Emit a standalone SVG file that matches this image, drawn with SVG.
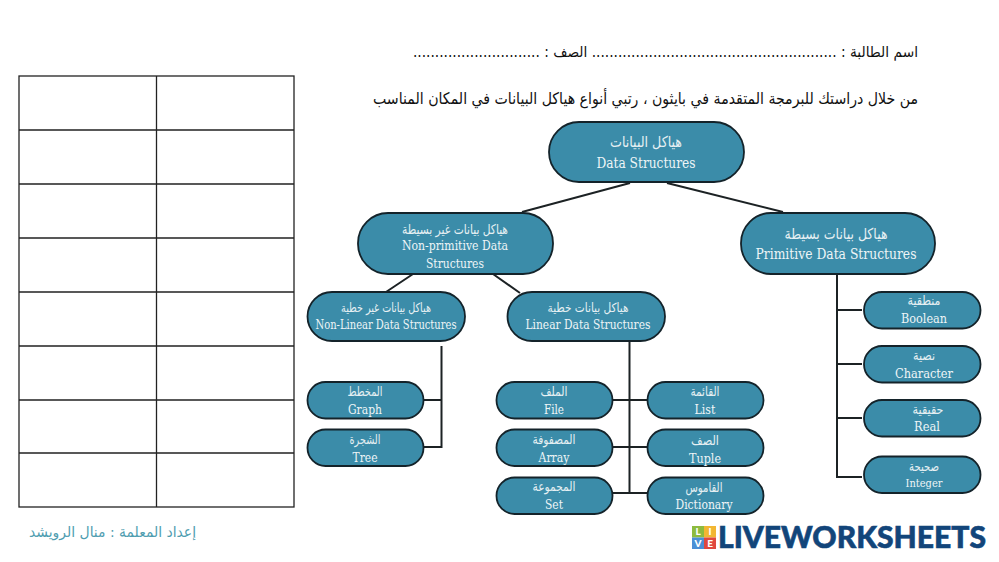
<svg xmlns="http://www.w3.org/2000/svg" width="999" height="562" viewBox="0 0 999 562">
<style>
.n{fill:#3b8ca9;stroke:#14232a;stroke-width:1.800}
.c{fill:none;stroke:#1c2224;stroke-width:2}
.t{fill:none;stroke:#222;stroke-width:1.300}
.ar{font-family:"DejaVu Sans",sans-serif;fill:#e6f0f3;text-anchor:middle;direction:rtl}
.en{font-family:"DejaVu Serif",serif;fill:#eef5f7;text-anchor:middle}
.h{font-family:"DejaVu Sans",sans-serif;direction:rtl;text-anchor:start;fill:#111}
</style>
<rect width="999" height="562" fill="#fff"/>
<g id="table" class="t">
<rect class="t" x="19" y="76" width="275" height="431"/>
<path class="t" d="M156.500 76V507M19 130H294M19 184H294M19 238H294M19 292H294M19 346H294M19 400H294M19 453H294"/>
</g>
<g id="header">
<text class="h" x="918" y="57" font-size="15" textLength="505" lengthAdjust="spacingAndGlyphs">اسم الطالبة : ........................................................ الصف : .............................</text>
<text class="h" x="918" y="104" font-size="16" textLength="545" lengthAdjust="spacingAndGlyphs">من خلال دراستك للبرمجة المتقدمة في بايثون ، رتبي أنواع هياكل البيانات في المكان المناسب</text>
</g>
<g id="connectors">
<path class="c" d="M630 183L522 212M667 183L783 212M413 274L386 292M493 274L520 293"/>
<path class="c" d="M441.500 346V447H424M424 400H441.500"/>
<path class="c" d="M629.500 341V493H613M613 400H647M613 447H647M629.500 493H647"/>
<path class="c" d="M837 274V477H862M837 310H862M837 364H862M837 418H862"/>
</g>
<g id="root"><rect class="n" x="549" y="122" width="195" height="60" rx="30"/>
<text class="ar" x="646" y="147" font-size="15" textLength="72" lengthAdjust="spacingAndGlyphs">هياكل البيانات</text>
<text class="en" x="646" y="168" font-size="14.500" textLength="99" lengthAdjust="spacingAndGlyphs">Data Structures</text></g>
<g id="non-primitive"><rect class="n" x="358" y="213" width="195" height="61" rx="30"/>
<text class="ar" x="455" y="234" font-size="13.500" textLength="106" lengthAdjust="spacingAndGlyphs">هياكل بيانات  غير بسيطة</text>
<text class="en" x="455" y="250" font-size="13" textLength="106" lengthAdjust="spacingAndGlyphs">Non-primitive Data</text>
<text class="en" x="455" y="268" font-size="13" textLength="58" lengthAdjust="spacingAndGlyphs">Structures</text></g>
<g id="primitive"><rect class="n" x="741" y="213" width="194" height="61" rx="30"/>
<text class="ar" x="836" y="239" font-size="15" textLength="103" lengthAdjust="spacingAndGlyphs">هياكل بيانات  بسيطة</text>
<text class="en" x="836" y="259" font-size="14.500" textLength="161" lengthAdjust="spacingAndGlyphs">Primitive Data Structures</text></g>
<g id="non-linear"><rect class="n" x="307.500" y="292" width="157.500" height="49" rx="24.500"/>
<text class="ar" x="386" y="312" font-size="12.500" textLength="90" lengthAdjust="spacingAndGlyphs">هياكل بيانات غير خطية</text>
<text class="en" x="386" y="329" font-size="12" textLength="141" lengthAdjust="spacingAndGlyphs">Non-Linear Data Structures</text></g>
<g id="linear"><rect class="n" x="507.500" y="292" width="157.500" height="49" rx="24.500"/>
<text class="ar" x="588" y="312" font-size="12.500" textLength="81" lengthAdjust="spacingAndGlyphs">هياكل بيانات خطية</text>
<text class="en" x="588" y="329" font-size="12" textLength="125" lengthAdjust="spacingAndGlyphs">Linear Data Structures</text></g>
<g id="graph"><rect class="n" x="307.500" y="382" width="116" height="36.500" rx="18"/>
<text class="ar" x="365" y="396" font-size="13" textLength="35" lengthAdjust="spacingAndGlyphs">المخطط</text>
<text class="en" x="365" y="414" font-size="12.500" textLength="34" lengthAdjust="spacingAndGlyphs">Graph</text></g>
<g id="tree"><rect class="n" x="307.500" y="429.500" width="116" height="36.500" rx="18"/>
<text class="ar" x="365" y="444" font-size="13" textLength="31" lengthAdjust="spacingAndGlyphs">الشجرة</text>
<text class="en" x="365" y="462" font-size="12.500" textLength="25" lengthAdjust="spacingAndGlyphs">Tree</text></g>
<g id="file"><rect class="n" x="496.500" y="382" width="116" height="36.500" rx="18"/>
<text class="ar" x="554" y="396" font-size="13" textLength="27" lengthAdjust="spacingAndGlyphs">الملف</text>
<text class="en" x="554" y="414" font-size="12.500" textLength="20" lengthAdjust="spacingAndGlyphs">File</text></g>
<g id="array"><rect class="n" x="496.500" y="429.500" width="116" height="36.500" rx="18"/>
<text class="ar" x="554" y="444" font-size="13" textLength="43" lengthAdjust="spacingAndGlyphs">المصفوفة</text>
<text class="en" x="554" y="462" font-size="12.500" textLength="31" lengthAdjust="spacingAndGlyphs">Array</text></g>
<g id="set"><rect class="n" x="496.500" y="477.500" width="116" height="36.500" rx="18"/>
<text class="ar" x="554" y="491" font-size="13" textLength="43" lengthAdjust="spacingAndGlyphs">المجموعة</text>
<text class="en" x="554" y="509" font-size="12.500" textLength="18" lengthAdjust="spacingAndGlyphs">Set</text></g>
<g id="list"><rect class="n" x="647.500" y="382" width="116" height="36.500" rx="18"/>
<text class="ar" x="705" y="396" font-size="13" textLength="29" lengthAdjust="spacingAndGlyphs">القائمة</text>
<text class="en" x="705" y="414" font-size="12.500" textLength="21" lengthAdjust="spacingAndGlyphs">List</text></g>
<g id="tuple"><rect class="n" x="647.500" y="429.500" width="116" height="36.500" rx="18"/>
<text class="ar" x="705" y="445" font-size="13" textLength="28" lengthAdjust="spacingAndGlyphs">الصف</text>
<text class="en" x="705" y="463" font-size="12.500" textLength="32" lengthAdjust="spacingAndGlyphs">Tuple</text></g>
<g id="dictionary"><rect class="n" x="647.500" y="477.500" width="116" height="36.500" rx="18"/>
<text class="ar" x="704" y="492" font-size="13" textLength="37" lengthAdjust="spacingAndGlyphs">القاموس</text>
<text class="en" x="704" y="509" font-size="12.500" textLength="57" lengthAdjust="spacingAndGlyphs">Dictionary</text></g>
<g id="boolean"><rect class="n" x="864" y="292" width="116.500" height="36.500" rx="18"/>
<text class="ar" x="924" y="305" font-size="13" textLength="33" lengthAdjust="spacingAndGlyphs">منطقية</text>
<text class="en" x="924" y="323" font-size="13" textLength="46" lengthAdjust="spacingAndGlyphs">Boolean</text></g>
<g id="character"><rect class="n" x="864" y="346" width="116.500" height="36.500" rx="18"/>
<text class="ar" x="924" y="360" font-size="13" textLength="22" lengthAdjust="spacingAndGlyphs">نصية</text>
<text class="en" x="924" y="378" font-size="13" textLength="58" lengthAdjust="spacingAndGlyphs">Character</text></g>
<g id="real"><rect class="n" x="864" y="400" width="116.500" height="36.500" rx="18"/>
<text class="ar" x="928" y="414" font-size="13" textLength="31" lengthAdjust="spacingAndGlyphs">حقيقية</text>
<text class="en" x="927" y="431" font-size="13" textLength="26" lengthAdjust="spacingAndGlyphs">Real</text></g>
<g id="integer"><rect class="n" x="864" y="456.500" width="116.500" height="36.500" rx="18"/>
<text class="ar" x="924" y="471" font-size="13" textLength="30" lengthAdjust="spacingAndGlyphs">صحيحة</text>
<text class="en" x="924" y="487" font-size="11.500" textLength="37" lengthAdjust="spacingAndGlyphs">Integer</text></g>
<g id="credit">
<text x="196" y="537" font-family="DejaVu Sans,sans-serif" font-size="14.500" fill="#4f9db0" direction="rtl" text-anchor="start" textLength="167" lengthAdjust="spacingAndGlyphs">إعداد المعلمة : منال الرويشد</text>
</g>
<g id="logo">
<rect x="692" y="526" width="12" height="11.500" fill="#8dbb3f"/>
<rect x="704" y="526" width="12" height="11.500" fill="#f2b632"/>
<rect x="692" y="537.500" width="12" height="11.500" fill="#4a8fd6"/>
<rect x="704" y="537.500" width="12" height="11.500" fill="#e0483e"/>
<g font-family="Lato,sans-serif" font-weight="900" font-size="10" fill="#fff" text-anchor="middle">
<text x="698" y="535">L</text><text x="710" y="535">I</text><text x="698" y="547">V</text><text x="710" y="547">E</text></g>
<text x="718" y="548" font-family="Lato,sans-serif" font-weight="900" font-size="30" fill="#12457a" stroke="#12457a" stroke-width="0.600" textLength="268" lengthAdjust="spacingAndGlyphs">LIVEWORKSHEETS</text>
</g>
</svg>
